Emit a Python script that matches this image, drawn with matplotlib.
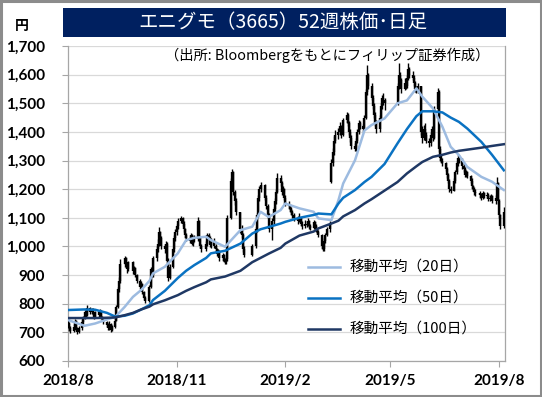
import matplotlib
matplotlib.use('Agg')
import matplotlib.pyplot as plt
from matplotlib.patches import Rectangle
from matplotlib.lines import Line2D
import numpy as np
import pandas as pd

plt.rcParams['font.family'] = ['Noto Sans CJK JP', 'DejaVu Sans']

# ---------------- data ----------------
start_date = '2018-08-01'
end_date = '2019-08-05'
holidays = ['2018-09-17', '2018-09-24', '2018-10-08', '2018-11-23', '2018-12-24',
            '2018-12-31', '2019-01-01', '2019-01-02', '2019-01-03', '2019-01-14',
            '2019-02-11', '2019-03-21', '2019-04-29', '2019-04-30', '2019-05-01',
            '2019-05-02', '2019-05-03', '2019-05-06', '2019-07-15']

# daily open = previous close, except these (first day and gap days)
first_open = 725
gap_opens = {'2019-03-12': 1225}

close = [
    730, 715, 705,
    720, 740, 710, 700, 715,
    735, 750, 770, 760, 785,
    770, 780, 765, 755, 770,
    760, 775, 750, 745, 735,
    725, 715, 730, 710, 720,
    740, 790, 850, 880, 940,
    960, 935, 920, 945,
    915, 925, 900, 880,
    860, 870, 840, 820, 810,
    860, 920, 900, 960,
    990, 1010, 1050, 1030, 1000,
    990, 1010, 950, 890, 930,
    990, 1030, 1050, 1070, 1090,
    1100, 1080, 1060, 1040, 1030,
    1020, 1040, 1010, 1030, 1025,
    1090, 1030, 1000, 990,
    1010, 1040, 1030, 1005, 1020,
    1000, 990, 975, 985, 960,
    970, 950, 945, 955, 1100,
    1230, 1260, 1190, 1160, 1120,
    1060, 1040, 990, 970,
    1000,
    1060, 1110, 1170, 1200, 1215,
    1170, 1140, 1110, 1060,
    1090, 1130, 1160, 1190, 1240,
    1220, 1190, 1200, 1170, 1150,
    1140, 1130, 1120, 1110, 1100,
    1090, 1100, 1080, 1070,
    1080, 1075, 1090, 1070, 1065,
    1085, 1070, 1060, 1050, 1040,
    1000, 990, 1020, 1040, 1060,
    1080, 1290, 1330, 1370, 1390,
    1400, 1420, 1390, 1440,
    1460, 1430, 1400, 1380, 1350,
    1340, 1370, 1400, 1430, 1420,
    1410, 1450, 1540, 1600, 1560,
    1520, 1490, 1460, 1430, 1410,
    1450, 1490, 1520, 1510, 1500,
    1560, 1600, 1580, 1550,
    1570, 1560, 1590, 1620, 1600,
    1590, 1570, 1550, 1540, 1560,
    1400, 1380, 1410, 1390, 1370,
    1360, 1390, 1410, 1380, 1480,
    1540, 1340, 1310, 1300, 1290,
    1270, 1250, 1230, 1200, 1195,
    1230, 1260, 1290, 1310, 1300,
    1280, 1270, 1250, 1260, 1245,
    1230, 1210, 1200, 1190, 1185,
    1180, 1170, 1185, 1175,
    1180, 1165, 1170, 1175, 1160,
    1170, 1220, 1160, 1110, 1070,
    1120,
]

high = [
    742, 735, 722,
    728, 748, 742, 718, 722,
    742, 758, 778, 775, 795,
    790, 786, 784, 770, 776,
    775, 782, 778, 758, 750,
    740, 732, 738, 733, 726,
    750, 795, 860, 895, 955,
    965, 962, 940, 950,
    948, 932, 928, 905,
    885, 878, 872, 845, 828,
    866, 930, 925, 965,
    1000, 1025, 1068, 1055, 1035,
    1008, 1020, 1015, 958, 938,
    995, 1040, 1060, 1080, 1100,
    1108, 1104, 1090, 1066, 1048,
    1038, 1048, 1045, 1036, 1040,
    1103, 1092, 1036, 1008,
    1018, 1048, 1046, 1035, 1028,
    1030, 1008, 995, 992, 988,
    978, 975, 958, 962, 1110,
    1240, 1272, 1262, 1198, 1168,
    1122, 1075, 1048, 1000,
    1008,
    1068, 1118, 1178, 1212, 1226,
    1218, 1180, 1150, 1118,
    1098, 1138, 1170, 1200, 1255,
    1248, 1228, 1210, 1205, 1178,
    1158, 1150, 1138, 1128, 1118,
    1108, 1116, 1104, 1088,
    1094, 1088, 1098, 1094, 1078,
    1092, 1090, 1078, 1066, 1056,
    1042, 1008, 1028, 1048, 1068,
    1088, 1305, 1345, 1385, 1405,
    1412, 1435, 1425, 1450,
    1470, 1465, 1438, 1410, 1388,
    1362, 1378, 1410, 1442, 1438,
    1428, 1460, 1550, 1633, 1605,
    1570, 1530, 1500, 1470, 1440,
    1458, 1500, 1530, 1535, 1518,
    1572, 1640, 1610, 1588,
    1588, 1580, 1600, 1640, 1628,
    1612, 1598, 1578, 1560, 1572,
    1562, 1420, 1425, 1430, 1400,
    1380, 1398, 1420, 1418, 1490,
    1555, 1545, 1352, 1322, 1310,
    1295, 1278, 1258, 1236, 1210,
    1238, 1268, 1300, 1322, 1318,
    1308, 1290, 1278, 1268, 1264,
    1250, 1238, 1215, 1208, 1200,
    1195, 1188, 1192, 1190,
    1190, 1185, 1178, 1182, 1178,
    1178, 1242, 1225, 1165, 1115,
    1138,
]

low = [
    715, 705, 698,
    700, 715, 705, 695, 698,
    710, 730, 745, 752, 758,
    765, 765, 760, 748, 750,
    752, 755, 745, 738, 728,
    718, 708, 710, 700, 705,
    715, 738, 785, 840, 872,
    930, 928, 908, 915,
    905, 905, 895, 872,
    852, 850, 835, 815, 803,
    805, 855, 893, 895,
    950, 980, 1002, 1022, 990,
    978, 982, 945, 880, 885,
    925, 982, 1020, 1040, 1062,
    1082, 1072, 1052, 1030, 1020,
    1012, 1015, 1005, 1002, 1015,
    1020, 1025, 995, 982,
    985, 1002, 1022, 998, 996,
    995, 982, 968, 965, 950,
    950, 945, 940, 940, 950,
    1095, 1215, 1180, 1145, 1110,
    1048, 1030, 980, 963,
    965,
    995, 1050, 1102, 1160, 1190,
    1162, 1130, 1100, 1050,
    1022, 1080, 1120, 1150, 1185,
    1210, 1180, 1182, 1162, 1140,
    1132, 1120, 1110, 1100, 1090,
    1080, 1085, 1072, 1062,
    1065, 1068, 1070, 1062, 1058,
    1060, 1062, 1052, 1042, 1032,
    992, 983, 985, 1012, 1035,
    1052, 1220, 1280, 1320, 1360,
    1375, 1390, 1378, 1385,
    1432, 1420, 1390, 1365, 1340,
    1335, 1332, 1362, 1392, 1410,
    1400, 1405, 1445, 1530, 1550,
    1510, 1480, 1450, 1420, 1396,
    1400, 1440, 1480, 1495, 1475,
    1495, 1550, 1570, 1535,
    1545, 1550, 1552, 1582, 1590,
    1580, 1560, 1540, 1535, 1535,
    1390, 1360, 1372, 1380, 1360,
    1347, 1352, 1382, 1370, 1375,
    1470, 1330, 1298, 1290, 1280,
    1262, 1240, 1220, 1190, 1188,
    1192, 1222, 1252, 1280, 1290,
    1272, 1260, 1242, 1242, 1238,
    1222, 1200, 1192, 1180, 1175,
    1170, 1162, 1165, 1168,
    1168, 1158, 1160, 1163, 1152,
    1150, 1165, 1150, 1100, 1060,
    1065,
]

ma_dates = ['2018-08-01', '2018-08-15', '2018-08-24', '2018-09-03', '2018-09-10',
            '2018-09-18', '2018-09-25', '2018-10-02', '2018-10-09', '2018-10-12',
            '2018-10-22', '2018-11-02', '2018-11-09', '2018-11-16', '2018-11-26',
            '2018-11-30', '2018-12-12', '2018-12-25', '2019-01-04', '2019-01-11',
            '2019-01-18', '2019-01-28', '2019-02-01', '2019-02-13', '2019-02-25',
            '2019-03-01', '2019-03-12', '2019-03-18', '2019-03-22', '2019-04-01',
            '2019-04-09', '2019-04-15', '2019-04-26', '2019-05-07', '2019-05-15',
            '2019-05-23', '2019-05-28', '2019-06-06', '2019-06-14', '2019-06-21',
            '2019-06-28', '2019-07-05', '2019-07-17', '2019-07-26', '2019-08-05']
ma20 = [743, 723, 731, 745, 754, 789, 824, 848, 880, 906,
        929, 976, 1022, 1030, 1034, 1022, 999, 1057, 1069, 1121,
        1103, 1127, 1150, 1133, 1121, 1098, 1092, 1162, 1220, 1301,
        1405, 1424, 1447, 1500, 1510, 1552, 1523, 1482, 1418, 1348,
        1319, 1278, 1243, 1226, 1197]
ma50 = [778, 780, 779, 768, 755, 758, 766, 780, 795, 813,
        845, 890, 915, 935, 960, 976, 985, 1010, 1045, 1060,
        1068, 1080, 1086, 1100, 1110, 1115, 1112, 1150, 1170, 1197,
        1225, 1243, 1288, 1360, 1410, 1455, 1472, 1472, 1468, 1450,
        1435, 1412, 1365, 1320, 1266]
ma100 = [750, 750, 750, 751, 752, 760, 768, 780, 790, 798,
         812, 830, 845, 858, 875, 885, 895, 915, 945, 960,
         975, 995, 1010, 1038, 1052, 1063, 1080, 1090, 1105, 1127,
         1150, 1165, 1195, 1225, 1255, 1280, 1295, 1313, 1320, 1328,
         1334, 1338, 1345, 1351, 1357]

y_ticks = [600, 700, 800, 900, 1000, 1100, 1200, 1300, 1400, 1500, 1600, 1700]
x_tick_dates = ['2018-08-01', '2018-11-01', '2019-02-01', '2019-05-01', '2019-08-01']
x_tick_labels = ['2018/8', '2018/11', '2019/2', '2019/5', '2019/8']
title_text = 'エニグモ（3665）52週株価･日足'
source_text = '（出所: Bloombergをもとにフィリップ証券作成）'
unit_text = '円'
legend_labels = ['移動平均（20日）', '移動平均（50日）', '移動平均（100日）']
ma_colors = ['#9DBBE0', '#0A72C2', '#1F3864']

# ---------------- figure ----------------
W, H = 542, 397
fig = plt.figure(figsize=(W / 100, H / 100), dpi=100)
fig.patch.set_facecolor('white')


def fx(px):
    return px / W


def fy(py):
    return 1 - py / H


ax = fig.add_axes([fx(68), fy(361), fx(505) - fx(68), fy(46) - fy(361)])

days = pd.bdate_range(start_date, end_date, freq='C', holidays=holidays)
close_arr = np.array(close, dtype=float)
open_arr = np.concatenate([[first_open], close_arr[:-1]])
for d, v in gap_opens.items():
    open_arr[days.get_loc(pd.Timestamp(d))] = v
xd = days.to_pydatetime()

ax.vlines(xd, low, high, color='black', lw=1.0, zorder=3)
ax.vlines(xd, np.minimum(open_arr, close_arr), np.maximum(open_arr, close_arr),
          color='black', lw=1.7, zorder=3)

mdt = pd.to_datetime(ma_dates).to_pydatetime()
lines = []
for vals, col, lab in zip([ma20, ma50, ma100], ma_colors, legend_labels):
    ln, = ax.plot(mdt, vals, color=col, lw=1.8, zorder=4, label=lab,
                  solid_joinstyle='round')
    lines.append(ln)

ax.set_ylim(600, 1700)
ax.set_xlim(pd.Timestamp('2018-08-01'), pd.Timestamp('2019-08-06'))
ax.set_yticks(y_ticks)
ax.set_yticklabels([f'{v:,}' for v in y_ticks])
ax.set_xticks(pd.to_datetime(x_tick_dates).to_pydatetime())
ax.set_xticklabels(x_tick_labels)
ax.yaxis.grid(True, color='#D9D9D9', lw=0.9, zorder=0)
ax.set_axisbelow(True)

for s in ['left', 'bottom', 'right']:
    ax.spines[s].set_color('#A6A6A6')
    ax.spines[s].set_linewidth(0.9)
ax.spines['top'].set_visible(False)

ax.tick_params(axis='y', length=4.5, color='#A6A6A6', pad=12, labelsize=11)
ax.tick_params(axis='x', length=4.5, color='#A6A6A6', pad=5, labelsize=11)
for lab in ax.get_yticklabels() + ax.get_xticklabels():
    lab.set_fontfamily(['Lato', 'DejaVu Sans'])
    lab.set_fontweight('bold')

# title bar
fig.add_artist(Rectangle((fx(63), fy(37)), fx(506) - fx(63), fy(8) - fy(37),
                         transform=fig.transFigure, facecolor='#002060',
                         edgecolor='none'))
fig.text(fx(283), fy(23), title_text, color='white', fontsize=14,
         ha='center', va='center')
fig.text(fx(22), fy(26), unit_text, fontsize=10, fontweight='bold',
         ha='center', va='center')
fig.text(fx(489), fy(55), source_text, fontsize=10.3, ha='right', va='center')

# legend
for i, (ln, lab) in enumerate(zip(lines, legend_labels)):
    yy = 267 + 31 * i
    fig.add_artist(Line2D([fx(308), fx(340)], [fy(yy), fy(yy)],
                          color=ln.get_color(), lw=1.8,
                          transform=fig.transFigure))
    fig.text(fx(350), fy(yy), lab, fontsize=10.5, ha='left', va='center')

# outer frame
fig.add_artist(Rectangle((0.002, 0.003), 0.996, 0.994, transform=fig.transFigure,
                         facecolor='none', edgecolor='#8C8C8C', lw=2.2))

fig.savefig('out.png', dpi=100)
